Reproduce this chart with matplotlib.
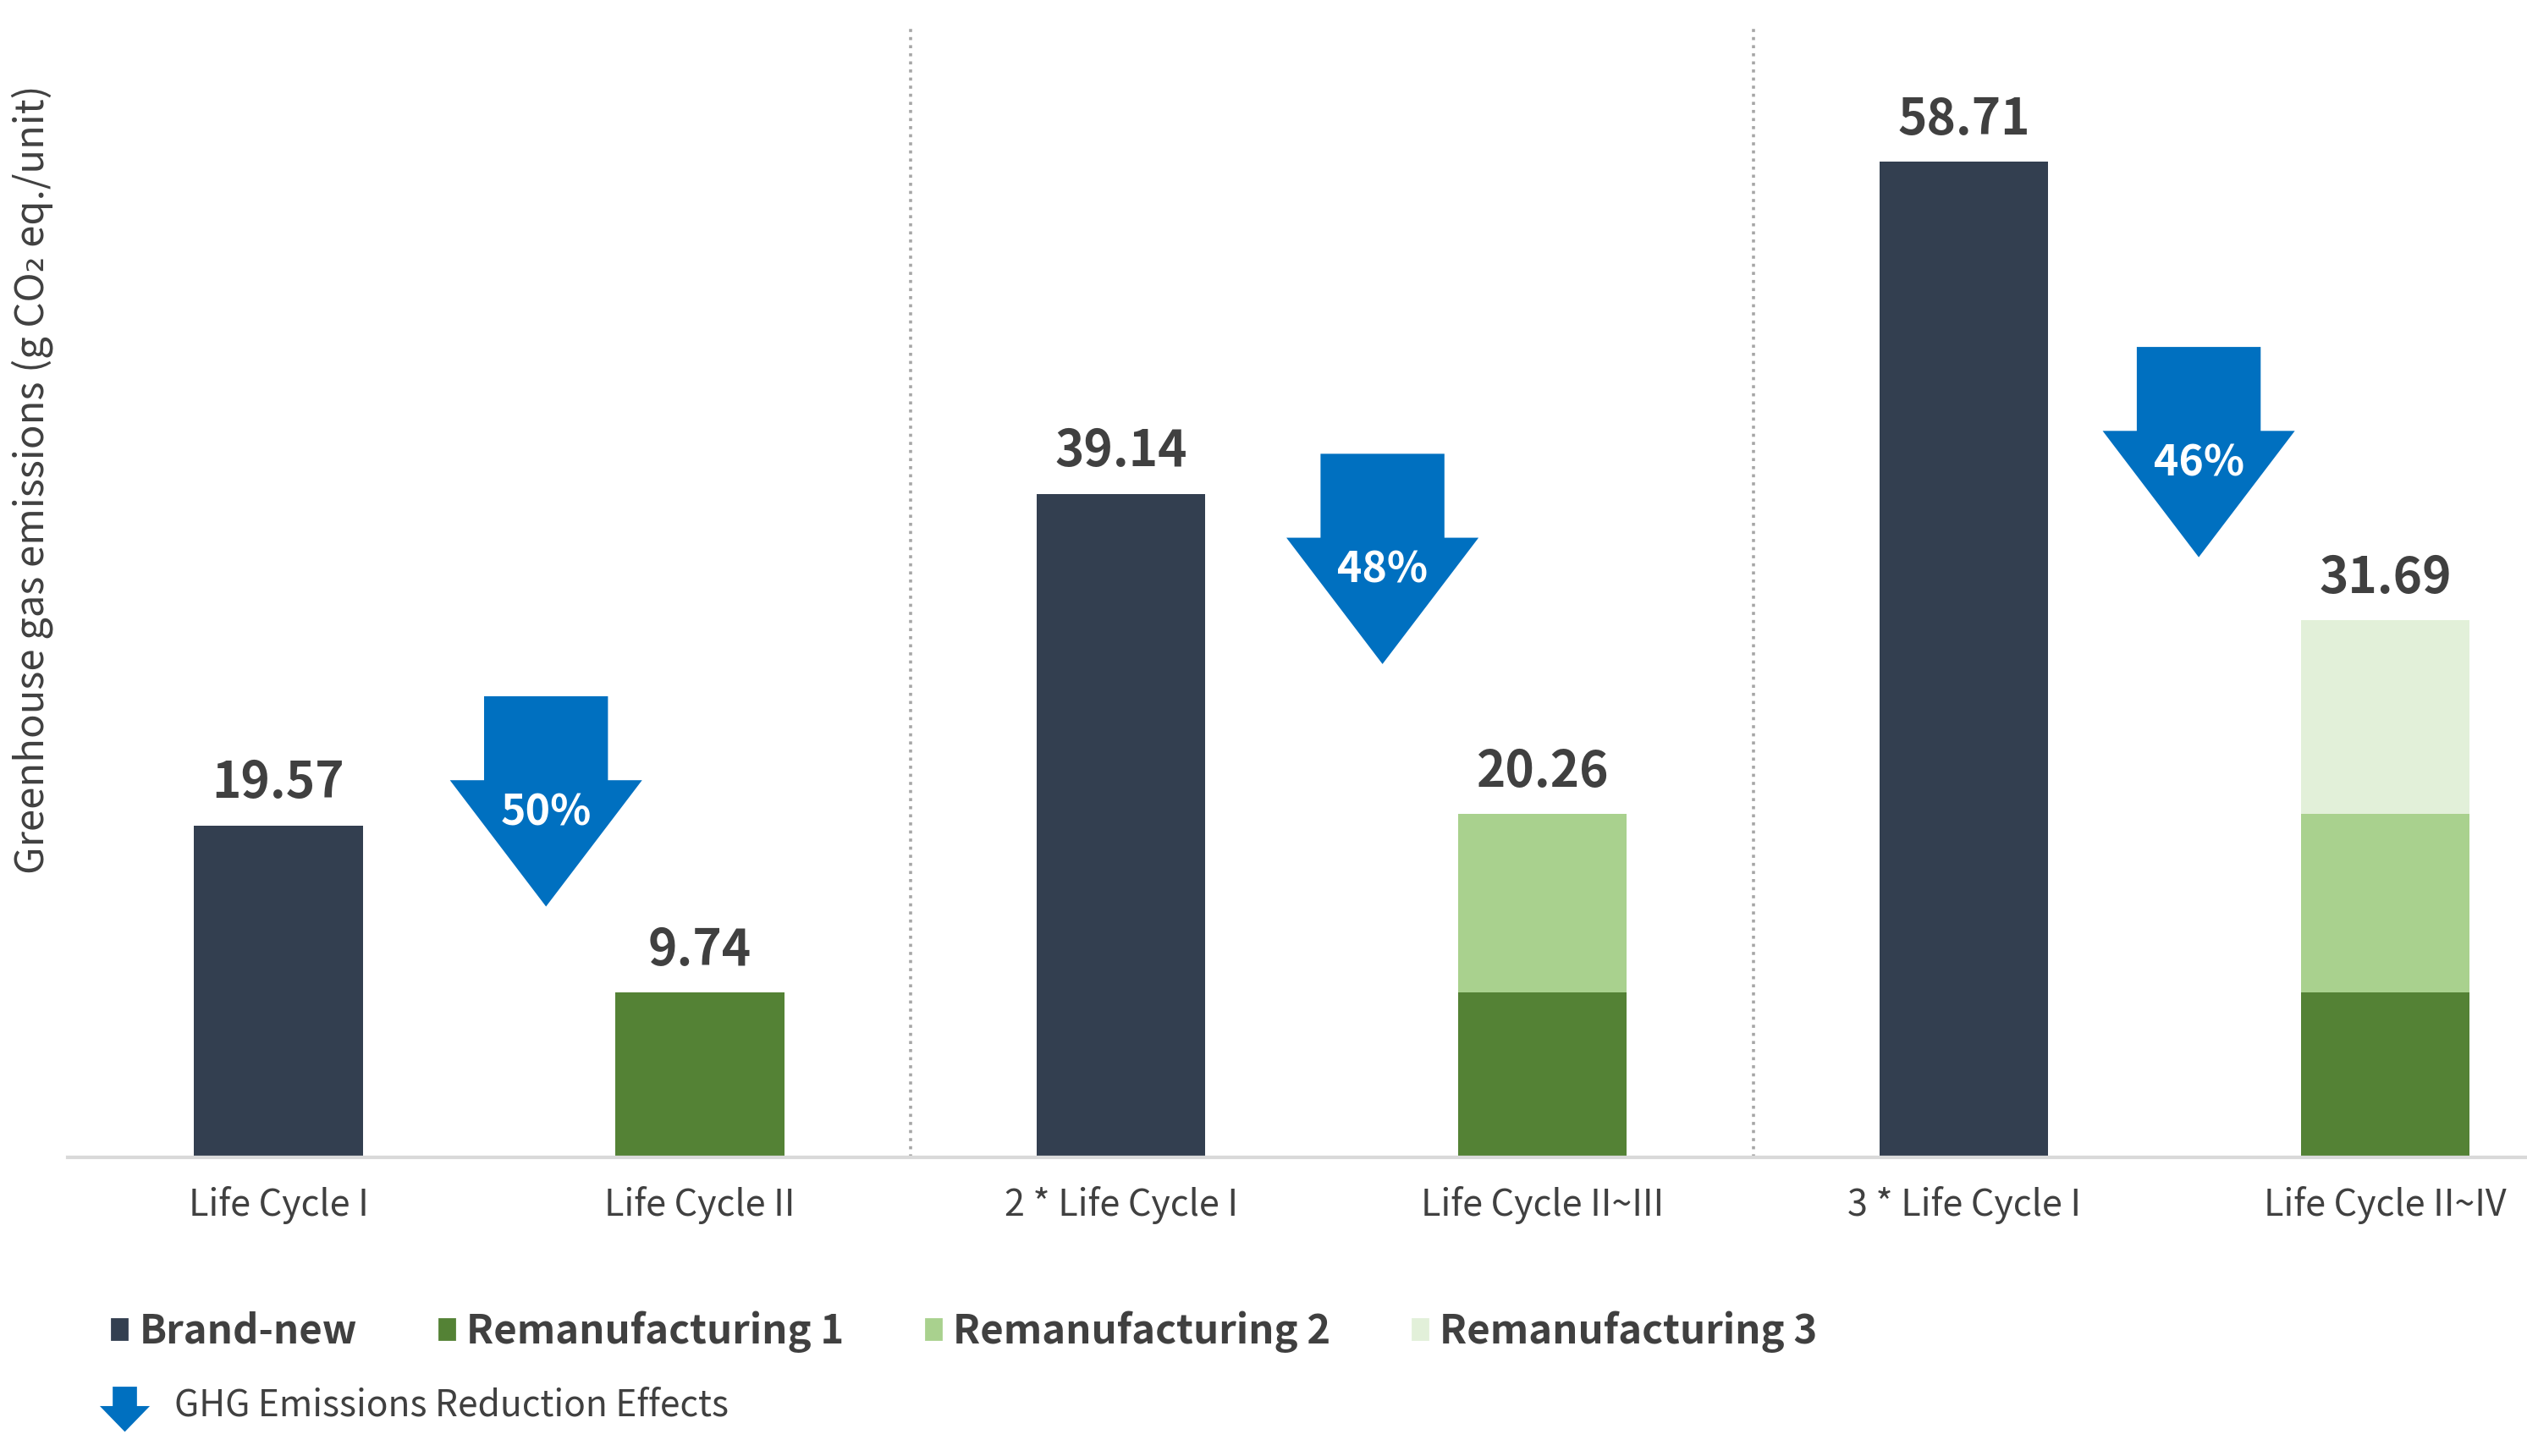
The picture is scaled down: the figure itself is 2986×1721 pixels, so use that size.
import numpy as np
import matplotlib
matplotlib.use("Agg")
import matplotlib.pyplot as plt
from matplotlib.patches import Polygon, Patch

plt.rcParams['font.family'] = ['Noto Sans CJK KR', 'DejaVu Sans']

# data
categories = ["Life Cycle I", "Life Cycle II", "2 * Life Cycle I",
              "Life Cycle II~III", "3 * Life Cycle I", "Life Cycle II~IV"]
brand_new = [19.57, 0, 39.14, 0, 58.71, 0]
reman_1 = [0, 9.74, 0, 9.74, 0, 9.74]
reman_2 = [0, 0, 0, 10.52, 0, 10.52]
reman_3 = [0, 0, 0, 0, 0, 11.43]
totals = [19.57, 9.74, 39.14, 20.26, 58.71, 31.69]
series_names = ["Brand-new", "Remanufacturing 1", "Remanufacturing 2", "Remanufacturing 3"]

# arrow placement (layout)
arrow_x = [0.635, 2.62, 4.557]
arrow_top = [27.2, 41.5, 47.8]

c_new = '#333F50'
c_r1 = '#548235'
c_r2 = '#A9D18E'
c_r3 = '#E2F0D9'
c_arrow = '#0070C0'
c_text = '#404040'

fig = plt.figure(figsize=(14.93, 8.605), dpi=200)
ax = fig.add_axes([0.0268, 0.205, 0.9732, 0.778])

x = np.arange(len(categories))
w = 0.4
b1 = np.array(brand_new)
b2 = b1 + np.array(reman_1)
b3 = b2 + np.array(reman_2)
ax.bar(x, brand_new, w, color=c_new, label=series_names[0])
ax.bar(x, reman_1, w, bottom=b1, color=c_r1, label=series_names[1])
ax.bar(x, reman_2, w, bottom=b2, color=c_r2, label=series_names[2])
ax.bar(x, reman_3, w, bottom=b3, color=c_r3, label=series_names[3])

for xi, t in zip(x, totals):
    ax.annotate(f"{t:.2f}", (xi, t), xytext=(0, 7), textcoords='offset points',
                ha='center', va='bottom', fontsize=21, fontweight='bold', color=c_text)

# separators
for sx in [1.5, 3.5]:
    ax.axvline(sx, color='#A6A6A6', linestyle=':', linewidth=1.3)

# reduction arrows
sw, hw = 0.147, 0.228
shaft, head = 4.95, 7.45
for i, (ax_, at) in enumerate(zip(arrow_x, arrow_top)):
    before = totals[2 * i]
    after = totals[2 * i + 1]
    pct = (before - after) / before * 100
    sb = at - shaft
    tip = sb - head
    pts = [(ax_ - sw, at), (ax_ + sw, at), (ax_ + sw, sb), (ax_ + hw, sb),
           (ax_, tip), (ax_ - hw, sb), (ax_ - sw, sb)]
    ax.add_patch(Polygon(pts, closed=True, facecolor=c_arrow, edgecolor='none'))
    ax.text(ax_, at - 0.555 * (at - tip), f"{pct:.0f}%", ha='center', va='center',
            color='white', fontsize=18, fontweight='bold')

ax.set_xlim(-0.5, 5.336)
ax.set_ylim(0, 66.8)
ax.set_xticks(x)
ax.set_xticklabels(categories, fontsize=15.5, color=c_text)
ax.tick_params(axis='x', length=0, pad=12)
ax.set_yticks([])
for s in ['top', 'right', 'left']:
    ax.spines[s].set_visible(False)
ax.spines['bottom'].set_color('#D9D9D9')
ax.spines['bottom'].set_linewidth(1.5)

fig.text(0.0128, 0.671, "Greenhouse gas emissions (g CO₂ eq./unit)", rotation=90,
         ha='center', va='center', fontsize=17, color=c_text)

# legend
handles = [Patch(color=c) for c in [c_new, c_r1, c_r2, c_r3]]
fig.legend(handles, series_names, loc='center left', bbox_to_anchor=(0.038, 0.0853),
           ncol=4, frameon=False, handlelength=0.38, handleheight=0.38,
           handletextpad=0.3, columnspacing=2.05, borderaxespad=0,
           prop={'size': 17, 'weight': 'bold'}, labelcolor=c_text)

lx, lsw, lhw = 0.0494, 0.0048, 0.0099
lt, lsb, ltip = 0.0476, 0.0343, 0.0166
fig.patches.append(Polygon([(lx - lsw, lt), (lx + lsw, lt), (lx + lsw, lsb), (lx + lhw, lsb),
                            (lx, ltip), (lx - lhw, lsb), (lx - lsw, lsb)], closed=True,
                           transform=fig.transFigure, facecolor=c_arrow, edgecolor='none'))
fig.text(0.0689, 0.0343, "GHG Emissions Reduction Effects", ha='left', va='center',
         fontsize=15.3, color=c_text)

fig.savefig("out.png", dpi=200)
